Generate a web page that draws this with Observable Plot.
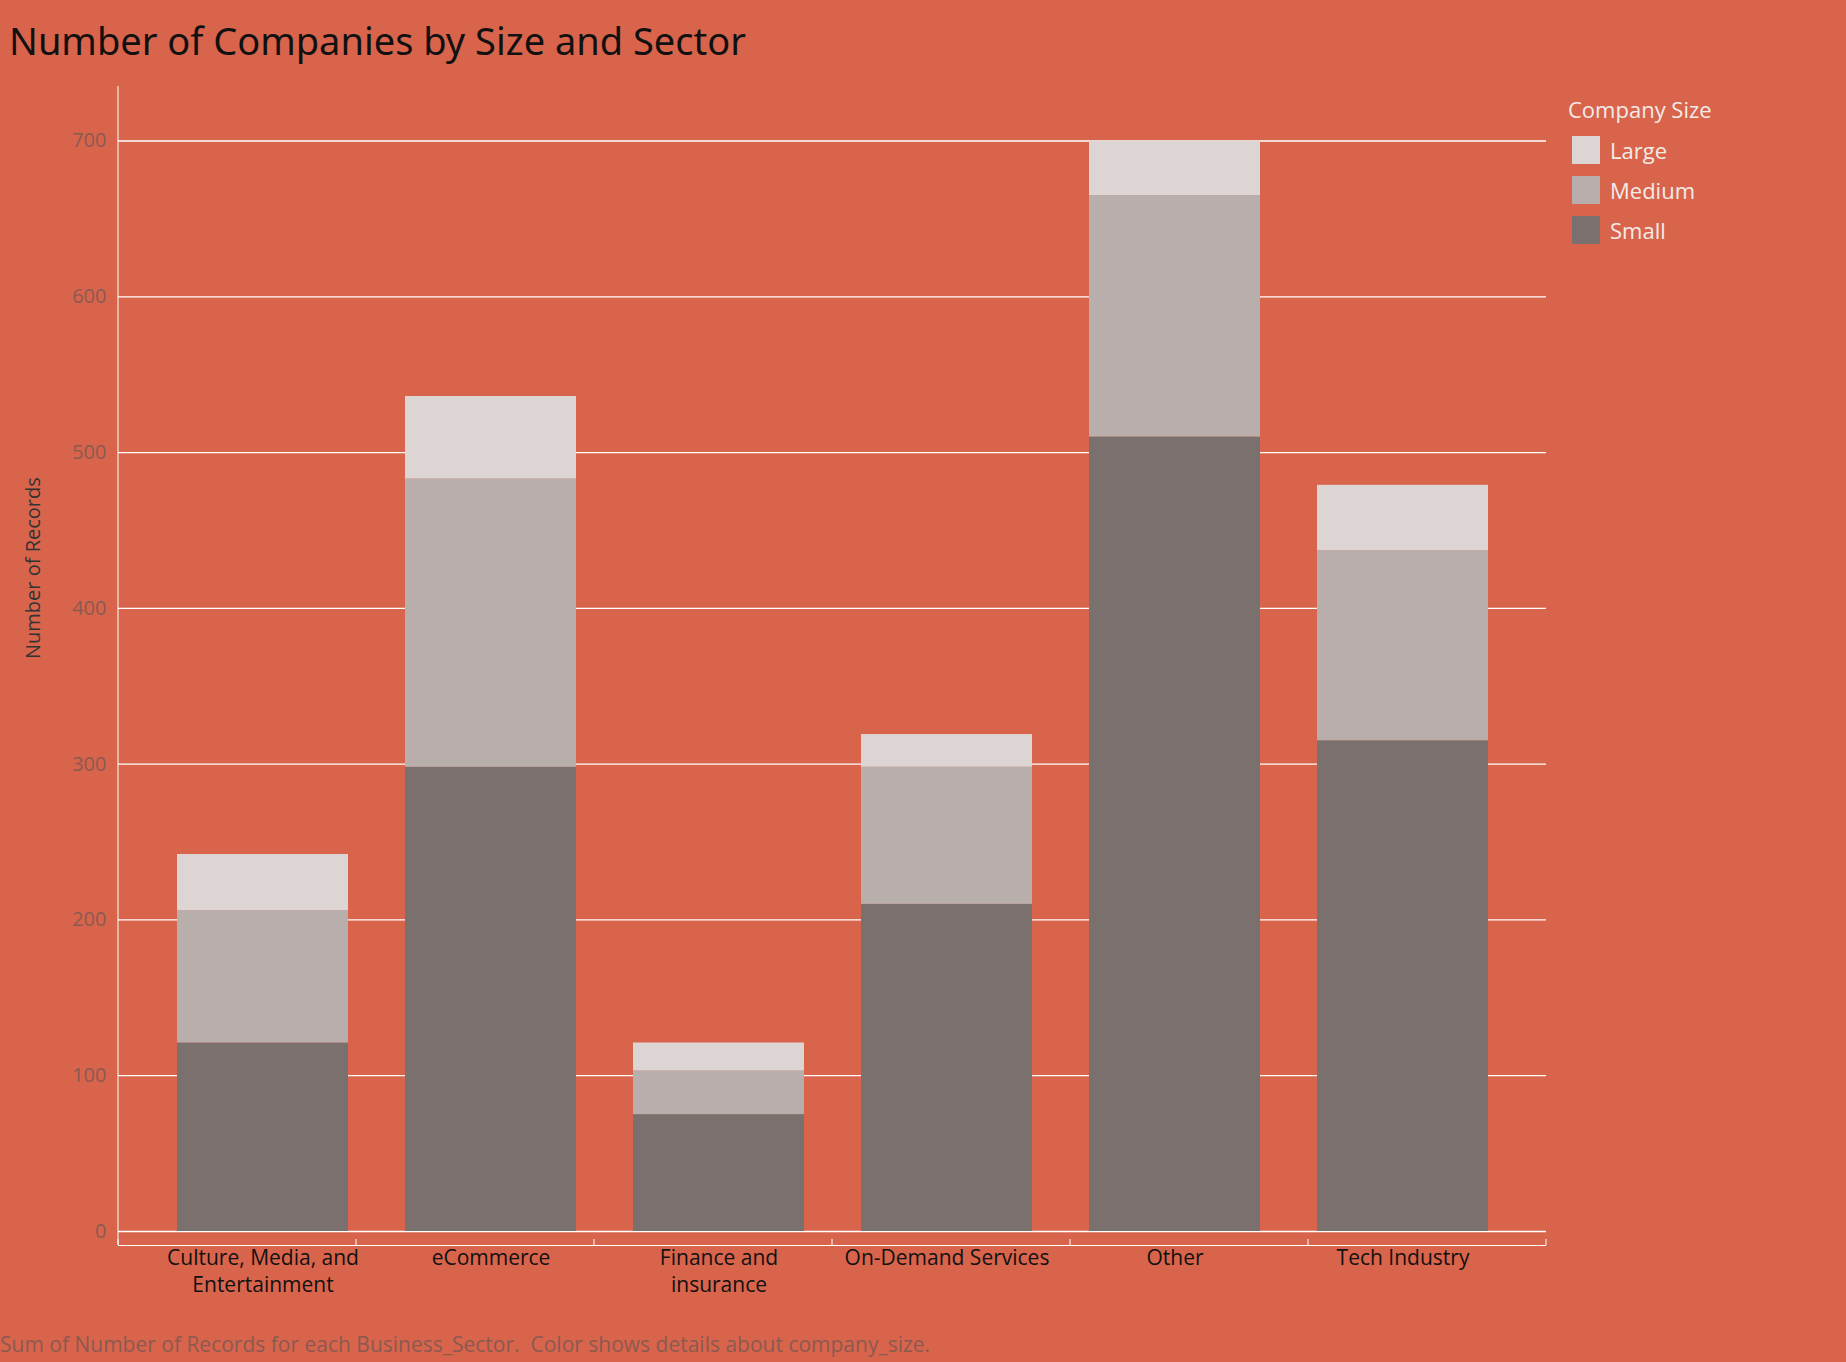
<!DOCTYPE html>
<html><head><meta charset="utf-8">
<script src="https://cdn.jsdelivr.net/npm/d3@7"></script>
<script src="https://cdn.jsdelivr.net/npm/@observablehq/plot@0.6"></script>
<style>
body{margin:0;background:#D9644C;font-family:"Open Sans",sans-serif;}
#wrap{position:relative;width:1846px;height:1362px;}
#title{position:absolute;left:9px;top:14px;font-size:38px;color:#111;font-family:"Noto Sans",sans-serif;}
#legend{position:absolute;left:1568px;top:94px;color:#f3ebe8;font-size:22px;}
#legend .t{margin-bottom:6px}
#legend .r{display:flex;align-items:center;height:40px;margin-left:4px}
#legend .s{width:28px;height:28px;margin-right:10px}
#caption{position:absolute;left:0;top:1330px;font-size:21px;color:#8a5a50;}
</style></head><body>
<div id="wrap">
<div id="chart"></div>
<div id="title">Number of Companies by Size and Sector</div>
<div id="legend"></div>
<div id="caption">Sum of Number of Records for each Business_Sector.&nbsp; Color shows details about company_size.</div>
</div>
<script>
const sectors = ['Culture, Media, and Entertainment','eCommerce','Finance and insurance','On-Demand Services','Other','Tech Industry']
const sizes = ['Small','Medium','Large']
const small = [121, 298, 75, 210, 510, 315]
const medium = [85, 185, 28, 88, 155, 122]
const large = [36, 53, 18, 21, 35, 42]
const colors = ['#7A716E','#B8AFAC','#DDD5D3']
const labels = {
  'Culture, Media, and Entertainment': 'Culture, Media, and\nEntertainment',
  'Finance and insurance': 'Finance and\ninsurance'
}

const series = [small, medium, large]
const data = []
sizes.forEach((s, i) => sectors.forEach((sec, j) => data.push({sector: sec, size: s, value: series[i][j]})))

let chart = Plot.plot({
  width: 1846,
  height: 1362,
  marginLeft: 118,
  marginRight: 300,
  marginTop: 86,
  marginBottom: 131,
  style: {background: 'transparent', fontFamily: '"Open Sans", sans-serif'},
  x: {domain: sectors, padding: 0.25, label: null},
  y: {domain: [0, 735], label: null},
  color: {domain: sizes, range: colors},
  marks: [
    Plot.gridY([0,100,200,300,400,500,600,700], {stroke: 'white', strokeOpacity: 1, strokeWidth: 1.3}),
    Plot.barY(data, {x: 'sector', y: 'value', fill: 'size', order: sizes}),
    Plot.axisY({ticks: [0,100,200,300,400,500,600,700], tickSize: 0, fontSize: 20, color: '#8a5a50', tickPadding: 12}),
    Plot.axisX({tickSize: 0, fontSize: 21, fill: '#111', tickFormat: d => labels[d] || d, tickPadding: 14, lineHeight: 1.3}),
    Plot.ruleX([0], {stroke: 'white'}),
    Plot.ruleY([0], {stroke: 'white', dy: 14}),
    Plot.text(['Number of Records'], {frameAnchor: 'left', dx: -85, rotate: -90, fontSize: 20, fill: '#333'})
  ]
})
d3.select('#chart').append(() => chart)

// ticks on the bottom line between categories
const svg = d3.select(chart)
const xs = [118 + 0, ...sectors.map((_, i) => 118 + (i + 1) * (1546 - 118) / 6)]
svg.append('g').selectAll('line').data(xs).join('line')
  .attr('x1', d => d).attr('x2', d => d).attr('y1', 1245).attr('y2', 1239)
  .attr('stroke', 'white')
svg.append('line').attr('x1', 118).attr('x2', 118).attr('y1', 86).attr('y2', 1245).attr('stroke', 'white')

const lg = d3.select('#legend')
lg.append('div').attr('class', 't').text('Company Size')
;['Large','Medium','Small'].forEach(s => {
  const r = lg.append('div').attr('class', 'r')
  r.append('div').attr('class', 's').style('background', colors[sizes.indexOf(s)])
  r.append('span').text(s)
})
</script>
</body></html>
